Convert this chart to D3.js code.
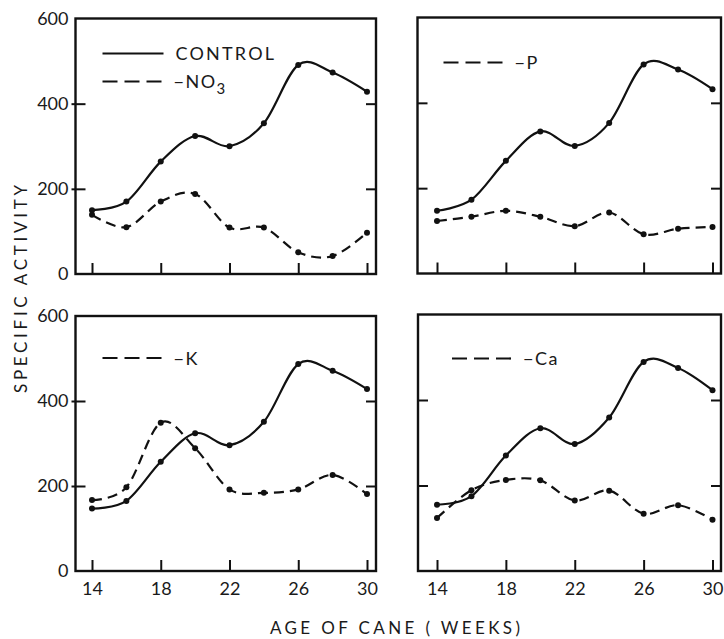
<!DOCTYPE html>
<html>
<head>
<meta charset="utf-8">
<script src="https://cdn.jsdelivr.net/npm/d3@7"></script>
<style>
  body { margin: 0; background: #fff; }
  text { font-family: Lato, "Open Sans", "DejaVu Sans", sans-serif; font-weight: 400; fill: #1a1a1a; }
</style>
</head>
<body>
<div id="chart"></div>
<script>
// weeks sampled
const weeks = [14, 16, 18, 20, 22, 24, 26, 28, 30];

// control series, one per panel (each panel has its own control run)
const controlNO3 = [150, 170, 264, 324, 300, 354, 491, 473, 428];
const controlP   = [147, 173, 264, 333, 299, 353, 490, 478, 432];
const controlK   = [147, 165, 257, 324, 296, 351, 487, 471, 428];
const controlCa  = [155, 175, 270, 334, 297, 359, 489, 475, 423];

// deficiency series
const minusNO3 = [139, 110, 170, 188, 109, 109, 51, 42, 97];
const minusP   = [123, 133, 147, 133, 111, 143, 92, 105, 109];
const minusK   = [167, 197, 349, 289, 192, 184, 192, 226, 181];
const minusCa  = [124, 189, 213, 212, 165, 188, 134, 154, 120];

const xTicks = [14, 18, 22, 26, 30];
const yTicks = [0, 200, 400, 600];

const width = 724, height = 639;

const svg = d3.select("#chart").append("svg")
  .attr("width", width)
  .attr("height", height);

// panel boxes (layout only)
const panels = [
  { control: controlNO3, treat: minusNO3, name: "NO", sub: "3",
    left: 75.5, right: 376, top: 18.5, bottom: 274, x14: 92, x30: 367,
    showY: true, showX: false, lx: 27, ly: 63, both: true },
  { control: controlP, treat: minusP, name: "P", sub: null,
    left: 417.5, right: 721, top: 17.5, bottom: 273.5, x14: 437, x30: 712.5,
    showY: false, showX: false, lx: 26, ly: 45, both: false },
  { control: controlK, treat: minusK, name: "K", sub: null,
    left: 75.5, right: 376, top: 316, bottom: 571, x14: 92, x30: 367,
    showY: true, showX: true, lx: 27, ly: 42, both: false },
  { control: controlCa, treat: minusCa, name: "Ca", sub: null,
    left: 418, right: 721, top: 314.5, bottom: 571, x14: 437, x30: 712.5,
    showY: false, showX: true, lx: 34, ly: 44, both: false }
];

panels.forEach(p => {
  const x = d3.scaleLinear().domain([14, 30]).range([p.x14, p.x30]);
  const y = d3.scaleLinear().domain([0, 600]).range([p.bottom, p.top]);

  const g = svg.append("g");

  // box
  g.append("rect")
    .attr("x", p.left).attr("y", p.top)
    .attr("width", p.right - p.left).attr("height", p.bottom - p.top)
    .attr("fill", "none").attr("stroke", "#111").attr("stroke-width", 2.4);

  // x ticks, inward
  const xAxis = d3.axisBottom(x).tickValues(xTicks).tickSize(-11).tickSizeOuter(0).tickPadding(11);
  const xg = g.append("g")
    .attr("transform", `translate(0,${p.bottom})`)
    .call(xAxis);
  xg.select(".domain").remove();
  xg.selectAll(".tick line").attr("stroke", "#111").attr("stroke-width", 2);
  if (p.showX) {
    xg.selectAll(".tick text").attr("font-size", 18).style("fill", "#1a1a1a");
  } else {
    xg.selectAll(".tick text").remove();
  }

  // y ticks, inward on both sides
  const yl = g.append("g")
    .attr("transform", `translate(${p.left},0)`)
    .call(d3.axisLeft(y).tickValues(yTicks).tickSize(-10).tickSizeOuter(0).tickPadding(7));
  yl.select(".domain").remove();
  yl.selectAll(".tick line")
    .attr("stroke", "#111").attr("stroke-width", 2)
    .attr("x1", p.showY ? -4 : 0)
    .style("display", d => (d === 0 || d === 600) ? "none" : null);
  if (p.showY) {
    yl.selectAll(".tick text").attr("font-size", 18).style("fill", "#1a1a1a");
  } else {
    yl.selectAll(".tick text").remove();
  }

  const yr = g.append("g")
    .attr("transform", `translate(${p.right},0)`)
    .call(d3.axisRight(y).tickValues([200, 400]).tickSize(-10).tickSizeOuter(0));
  yr.select(".domain").remove();
  yr.selectAll(".tick text").remove();
  yr.selectAll(".tick line").attr("stroke", "#111").attr("stroke-width", 2);

  const line = d3.line()
    .x((d, i) => x(weeks[i]))
    .y(d => y(d))
    .curve(d3.curveCatmullRom.alpha(0));

  g.append("path")
    .datum(p.control)
    .attr("d", line)
    .attr("fill", "none").attr("stroke", "#111").attr("stroke-width", 2.2);

  g.append("path")
    .datum(p.treat)
    .attr("d", line)
    .attr("fill", "none").attr("stroke", "#111").attr("stroke-width", 2.2)
    .attr("stroke-dasharray", "10,6");

  [p.control, p.treat].forEach(s => {
    g.selectAll(null)
      .data(s)
      .enter()
      .append("circle")
      .attr("cx", (d, i) => x(weeks[i]))
      .attr("cy", d => y(d))
      .attr("r", 3)
      .attr("fill", "#111");
  });

  // legend
  const lx0 = p.left + p.lx, lx1 = lx0 + 61;
  if (p.both) {
    const sy = p.top + 35;
    g.append("line").attr("x1", lx0).attr("x2", lx1).attr("y1", sy).attr("y2", sy)
      .attr("stroke", "#111").attr("stroke-width", 2.2);
    g.append("text").attr("x", lx1 + 12).attr("y", sy + 6.5)
      .attr("font-size", 18).attr("letter-spacing", 2.2).text("CONTROL");
  }
  const dy = p.top + p.ly;
  g.append("line").attr("x1", lx0).attr("x2", lx1).attr("y1", dy).attr("y2", dy)
    .attr("stroke", "#111").attr("stroke-width", 2.2).attr("stroke-dasharray", "15,7");
  const lt = g.append("text").attr("x", lx1 + 10).attr("y", dy + 6.5)
    .attr("font-size", 18).attr("letter-spacing", 1.5);
  lt.append("tspan").text("\u2212" + p.name);
  if (p.sub) {
    lt.append("tspan").attr("dy", 6).attr("font-size", 15).text(p.sub);
  }
});

// axis titles
svg.append("text")
  .attr("transform", "translate(27,289) rotate(-90)")
  .attr("text-anchor", "middle")
  .attr("font-size", 17)
  .attr("textLength", 208)
  .attr("lengthAdjust", "spacing")
  .text("SPECIFIC  ACTIVITY");

svg.append("text")
  .attr("x", 395).attr("y", 634)
  .attr("text-anchor", "middle")
  .attr("font-size", 17)
  .attr("textLength", 250)
  .attr("lengthAdjust", "spacing")
  .text("AGE  OF  CANE ( WEEKS)");
</script>
</body>
</html>
